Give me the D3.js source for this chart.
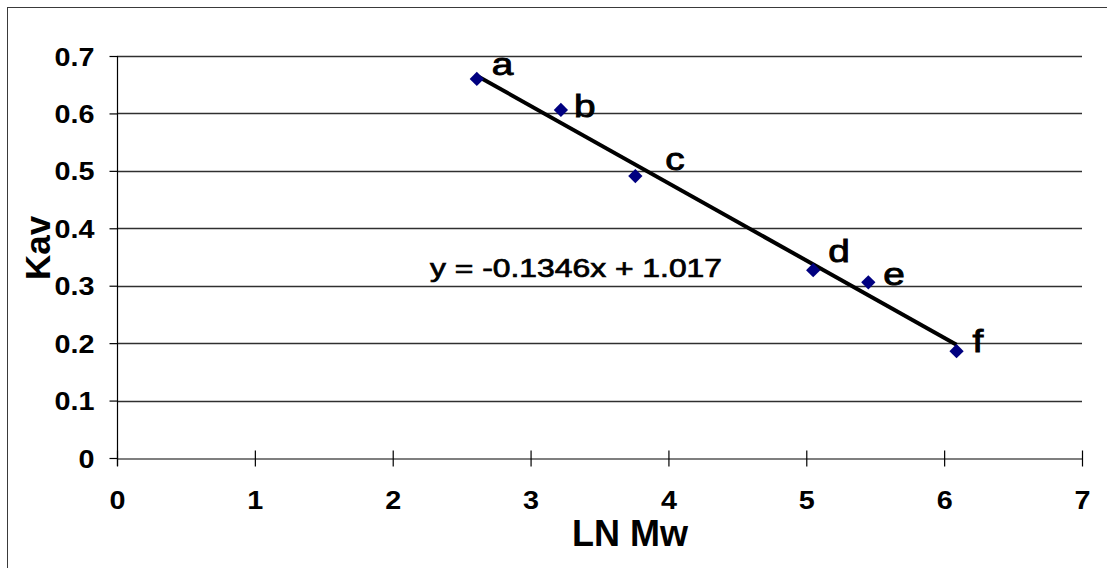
<!DOCTYPE html>
<html>
<head>
<meta charset="utf-8">
<script src="https://cdn.jsdelivr.net/npm/d3@7"></script>
<style>
  body { margin: 0; background: #fff; }
  text { font-family: "Liberation Sans", Arial, sans-serif; }
</style>
</head>
<body>
<svg id="chart"></svg>
<script>
// data
var lnMw = [2.61, 3.22, 3.76, 5.05, 5.45, 6.09];
var kav = [0.660, 0.606, 0.491, 0.327, 0.306, 0.186];
var pointNames = ["a", "b", "c", "d", "e", "f"];
var xTicks = [0, 1, 2, 3, 4, 5, 6, 7];
var yTicks = [0, 0.1, 0.2, 0.3, 0.4, 0.5, 0.6, 0.7];
var slope = -0.1346, intercept = 1.017;
var equationText = "y = -0.1346x + 1.017";

// label nudges (px) relative to each point, as placed by hand in the original
var labelDx = [15, 13, 30, 15, 15, 16];
var labelDy = [-4, 7, -6, -8, 3, 1];

var width = 1107, height = 568;
var svg = d3.select("#chart")
    .attr("width", width)
    .attr("height", height);

// outer frame, runs off the right and bottom edges
svg.append("rect")
    .attr("x", 7.5).attr("y", 7.5)
    .attr("width", width + 20).attr("height", height + 20)
    .style("fill", "none")
    .style("stroke", "#3a3a3a")
    .style("stroke-width", 1);

var x = d3.scaleLinear().domain([0, 7]).range([117, 1082]);
var y = d3.scaleLinear().domain([0, 0.7]).range([458, 56]);

// gridlines
svg.selectAll(".grid")
    .data(yTicks.filter(d => d > 0))
  .enter().append("line")
    .attr("class", "grid")
    .attr("x1", x(0)).attr("x2", x(7))
    .attr("y1", d => Math.round(y(d)) + 0.5)
    .attr("y2", d => Math.round(y(d)) + 0.5)
    .style("stroke", "#303030")
    .style("stroke-width", 1.6);

// y axis
var yAxis = svg.append("g")
    .attr("transform", "translate(" + (x(0) + 0.5) + ",0)")
    .call(d3.axisLeft(y).tickValues(yTicks).tickSize(8).tickSizeOuter(0)
      .tickFormat(d => d === 0 ? "0" : d3.format(".1f")(d)));
yAxis.select(".domain").attr("d", "M0," + y(0.7) + "V" + (y(0) + 8))
    .style("stroke", "#000").style("stroke-width", 1.2);
yAxis.selectAll(".tick line").style("stroke", "#000").style("stroke-width", 1.2);
yAxis.selectAll(".tick text")
    .attr("x", -23 / 1.15)
    .attr("dy", "0.36em")
    .attr("transform", "scale(1.15,1)")
    .style("font-size", "25px")
    .style("font-weight", "bold")
    .style("fill", "#000");

// x axis
var xAxis = svg.append("g")
    .attr("transform", "translate(0," + (y(0) + 0.5) + ")")
    .call(d3.axisBottom(x).tickValues(xTicks).tickSize(8).tickSizeOuter(0)
      .tickFormat(d3.format("d")));
xAxis.select(".domain").style("stroke", "#000").style("stroke-width", 1.2);
xAxis.selectAll(".tick line")
    .attr("y1", -8).attr("y2", 8)
    .style("stroke", "#000").style("stroke-width", 1.2);
xAxis.selectAll(".tick text")
    .attr("y", 51)
    .attr("dy", 0)
    .attr("transform", "scale(1.15,1)")
    .style("font-size", "25px")
    .style("font-weight", "bold")
    .style("fill", "#000");

// axis titles
svg.append("text")
    .attr("x", 630).attr("y", 546)
    .style("text-anchor", "middle")
    .style("font-size", "36px")
    .style("font-weight", "bold")
    .text("LN Mw");

svg.append("text")
    .attr("transform", "translate(50,248) rotate(-90)")
    .style("text-anchor", "middle")
    .style("font-size", "35px")
    .style("font-weight", "bold")
    .text("Kav");

// linear trendline over the data range
var xMin = d3.min(lnMw), xMax = d3.max(lnMw);
svg.append("line")
    .attr("x1", x(xMin)).attr("y1", y(slope * xMin + intercept))
    .attr("x2", x(xMax)).attr("y2", y(slope * xMax + intercept))
    .style("stroke", "#000")
    .style("stroke-width", 4);

// points
var diamond = d3.symbol().type(d3.symbolDiamond2).size(130);
svg.selectAll(".pt")
    .data(lnMw)
  .enter().append("path")
    .attr("class", "pt")
    .attr("d", diamond)
    .attr("transform", (d, i) => "translate(" + x(d) + "," + y(kav[i]) + ")")
    .style("fill", "#000080");

// point letters
svg.selectAll(".ptlabel")
    .data(pointNames)
  .enter().append("text")
    .attr("class", "ptlabel")
    .attr("x", (d, i) => (x(lnMw[i]) + labelDx[i]) / 1.25)
    .attr("y", (d, i) => y(kav[i]) + labelDy[i])
    .attr("transform", "scale(1.25,1)")
    .style("font-size", "31px")
    .style("fill", "#000")
    .style("stroke", "#000")
    .style("stroke-width", 0.9)
    .text(d => d);

// equation
svg.append("text")
    .attr("x", 430).attr("y", 277)
    .attr("textLength", 292)
    .attr("lengthAdjust", "spacingAndGlyphs")
    .style("font-size", "25px")
    .style("fill", "#000")
    .style("stroke", "#000")
    .style("stroke-width", 0.7)
    .text(equationText);
</script>
</body>
</html>
